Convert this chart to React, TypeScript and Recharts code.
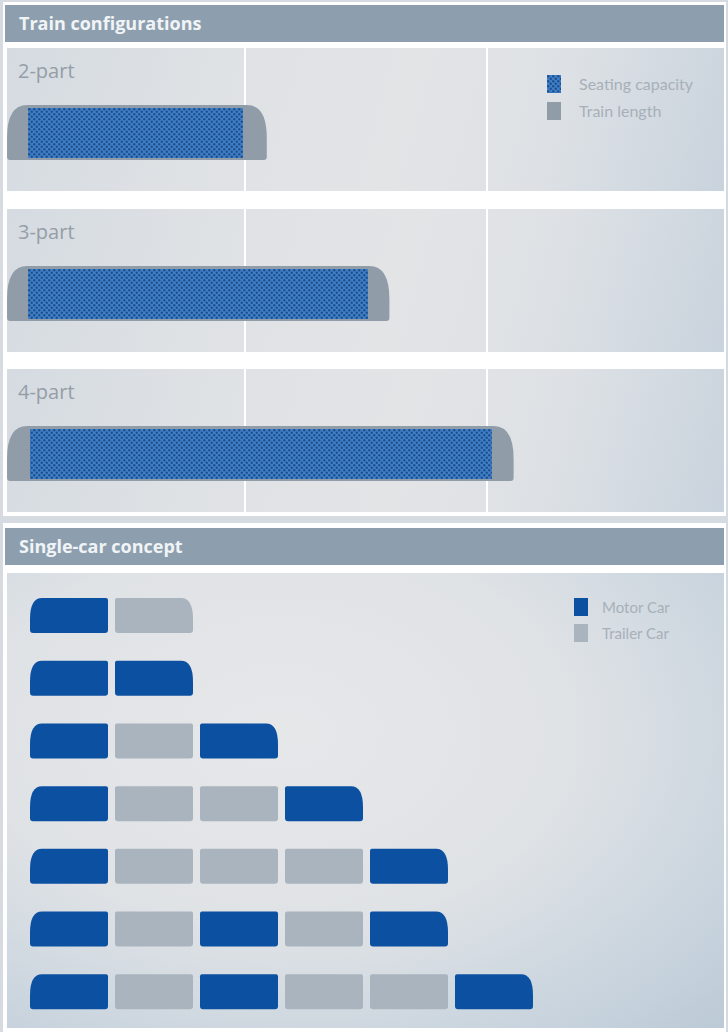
import React from 'react';
import { BarChart, Bar, XAxis, YAxis, CartesianGrid, Legend } from 'recharts';

// Train configurations (lengths in metres)
const configurations = ['2-part', '3-part', '4-part'];
const trainStart = [0.5, 0.5, 0.5];
const trainLength = [32.7, 47.9, 63.3];
const seatingStart = [3.1, 3.1, 3.35];
const seatingEnd = [29.75, 45.25, 60.6];
const lengthTicks = [0, 30, 60, 90];

// Single-car concept: M = motor car, T = trailer car
const formations = ['MT', 'MM', 'MTM', 'MTTM', 'MTTTM', 'MTMTM', 'MTMTTM'];
const slotKeys = ['c1', 'c2', 'c3', 'c4', 'c5', 'c6'];
const carTypes = ['Motor Car', 'Trailer Car'];
const legendOrder = ['Seating capacity', 'Train length'];

const COLORS = {
  page: '#d6dbe1',
  header: '#8d9fae',
  headerText: '#f1f4f6',
  label: '#959ea7',
  legendText: '#a7b0b9',
  train: '#909da9',
  motor: '#0c51a1',
  trailer: '#a9b4bf',
};
const carColors = [COLORS.motor, COLORS.trailer];

const topPanelBg =
  'linear-gradient(105deg, #d5dbe1 0%, #dfe2e5 30%, #e3e4e6 55%, #dde1e5 75%, #c9d3dd 100%)';
const bottomPanelBg =
  'radial-gradient(ellipse at 38% 35%, #e6e7e9 0%, #e0e3e6 45%, #ccd6df 75%, #bccad7 100%)';

const TrainShape = (props: any) => {
  const { x, y, width, height, fill } = props;
  if (!(width > 0)) return null;
  const nose = 20;
  const r = 3;
  const mid = y + height * 0.6;
  const b = y + height;
  const right = x + width;
  const d = `M${x + nose},${y} L${right - nose},${y} Q${right},${y} ${right},${mid} L${right},${b - r} Q${right},${b} ${right - r},${b} L${x + r},${b} Q${x},${b} ${x},${b - r} L${x},${mid} Q${x},${y} ${x + nose},${y} Z`;
  return <path d={d} fill={fill} />;
};

const CarShape = (props: any) => {
  const { x, y, width, height, payload, slot } = props;
  const formation: string = payload.formation;
  if (slot >= formation.length || !(width > 0)) return null;
  const fill = formation[slot] === 'M' ? COLORS.motor : COLORS.trailer;
  const w = width - 7;
  const first = slot === 0;
  const last = slot === formation.length - 1;
  const nose = 12;
  const r = 2;
  const mid = y + height * 0.6;
  const b = y + height;
  const right = x + w;
  const topLeft = first ? `M${x + nose},${y}` : `M${x + r},${y}`;
  const topRight = last
    ? `L${right - nose},${y} Q${right},${y} ${right},${mid}`
    : `L${right - r},${y} Q${right},${y} ${right},${y + r}`;
  const rightSide = `L${right},${b - 3} Q${right},${b} ${right - 3},${b}`;
  const bottom = `L${x + 3},${b} Q${x},${b} ${x},${b - 3}`;
  const leftSide = first
    ? `L${x},${mid} Q${x},${y} ${x + nose},${y} Z`
    : `L${x},${y + r} Q${x},${y} ${x + r},${y} Z`;
  return <path d={`${topLeft} ${topRight} ${rightSide} ${bottom} ${leftSide}`} fill={fill} />;
};

const TopLegend = (props: any) => {
  const items = [...(props.payload || [])].sort(
    (a: any, b: any) => legendOrder.indexOf(a.value) - legendOrder.indexOf(b.value)
  );
  return (
    <div>
      {items.map((entry: any) => (
        <div key={entry.value} style={{ display: 'flex', alignItems: 'center', height: 27 }}>
          <svg width={14} height={18} style={{ marginRight: 18 }}>
            <rect width={14} height={18} fill={entry.color} />
          </svg>
          <span style={{ color: COLORS.legendText, fontSize: 16, fontFamily: 'Lato' }}>{entry.value}</span>
        </div>
      ))}
    </div>
  );
};

const CarLegend = () => (
  <div>
    {carTypes.map((name, i) => (
      <div key={name} style={{ display: 'flex', alignItems: 'center', height: 26 }}>
        <svg width={14} height={18} style={{ marginRight: 14 }}>
          <rect width={14} height={18} fill={carColors[i]} />
        </svg>
        <span style={{ color: COLORS.legendText, fontSize: 15, fontFamily: 'Lato' }}>{name}</span>
      </div>
    ))}
  </div>
);

const Header = ({ top, title }: { top: number; title: string }) => (
  <div
    style={{
      position: 'absolute',
      left: 5,
      top,
      width: 719,
      height: 37,
      background: COLORS.header,
      color: COLORS.headerText,
      fontFamily: 'Open Sans',
      fontWeight: 700,
      fontSize: 18,
      lineHeight: '37px',
      paddingLeft: 14,
      boxSizing: 'border-box',
    }}
  >
    {title}
  </div>
);

const panelTops = [48, 209, 369];

const ConfigPanel = ({ index }: { index: number }) => {
  const row = [
    {
      name: configurations[index],
      length: [trainStart[index], trainLength[index]],
      seats: [seatingStart[index], seatingEnd[index]],
    },
  ];
  return (
    <div
      style={{
        position: 'absolute',
        left: 7,
        top: panelTops[index],
        width: 717,
        height: 143,
        background: topPanelBg,
        overflow: 'hidden',
      }}
    >
      <div style={{ position: 'absolute', left: -4, top: 0 }}>
        <BarChart
          layout="vertical"
          width={726}
          height={143}
          data={row}
          margin={{ top: 0, right: 0, bottom: 0, left: 0 }}
        >
          <CartesianGrid horizontal={false} stroke="#ffffff" strokeWidth={2} />
          <XAxis type="number" domain={[0, 90]} ticks={lengthTicks} hide />
          <YAxis yAxisId="len" type="category" dataKey="name" hide padding={{ top: 26, bottom: 0 }} />
          <YAxis yAxisId="seat" type="category" dataKey="name" hide padding={{ top: 26, bottom: 0 }} />
          <Bar
            yAxisId="len"
            dataKey="length"
            name="Train length"
            fill={COLORS.train}
            barSize={55}
            shape={<TrainShape />}
            isAnimationActive={false}
          />
          <Bar
            yAxisId="seat"
            dataKey="seats"
            name="Seating capacity"
            fill="url(#seatPattern)"
            barSize={50}
            isAnimationActive={false}
          />
          {index === 0 && (
            <Legend
              verticalAlign="middle"
              align="center"
              content={<TopLegend />}
              wrapperStyle={{ left: 544, top: 22, width: 170 }}
            />
          )}
        </BarChart>
      </div>
      <div
        style={{
          position: 'absolute',
          left: 11,
          top: 10,
          fontFamily: 'Open Sans',
          fontSize: 20,
          lineHeight: '26px',
          color: COLORS.label,
        }}
      >
        {configurations[index]}
      </div>
    </div>
  );
};

const carData = formations.map((formation) => {
  const rowObj: any = { name: formation, formation };
  slotKeys.forEach((key, i) => {
    rowObj[key] = i < formation.length ? 1 : null;
  });
  return rowObj;
});

const App = () => {
  return (
    <div
      style={{
        position: 'absolute',
        left: 0,
        top: 0,
        width: 728,
        height: 1032,
        background: COLORS.page,
        overflow: 'hidden',
      }}
    >
      <svg width={0} height={0} style={{ position: 'absolute' }}>
        <defs>
          <pattern id="seatPattern" width={5} height={5} patternUnits="userSpaceOnUse">
            <rect width={5} height={5} fill="#3f7fc8" />
            <circle cx={1.25} cy={1.25} r={1.2} fill="#1d4f8c" />
            <circle cx={3.75} cy={3.75} r={1.2} fill="#1d4f8c" />
          </pattern>
        </defs>
      </svg>

      <div style={{ position: 'absolute', left: 3, top: 2, width: 723, height: 514, background: '#ffffff' }} />
      <Header top={5} title="Train configurations" />
      {configurations.map((_, i) => (
        <ConfigPanel key={i} index={i} />
      ))}

      <div style={{ position: 'absolute', left: 3, top: 523, width: 723, height: 509, background: '#ffffff' }} />
      <Header top={528} title="Single-car concept" />
      <div
        style={{
          position: 'absolute',
          left: 7,
          top: 573,
          width: 717,
          height: 455,
          background: bottomPanelBg,
        }}
      >
        <div style={{ position: 'absolute', left: 23, top: 11 }}>
          <BarChart
            layout="vertical"
            width={680}
            height={439}
            data={carData}
            margin={{ top: 0, right: 0, bottom: 0, left: 0 }}
          >
            <XAxis type="number" domain={[0, 8]} hide />
            <YAxis type="category" dataKey="name" hide />
            {slotKeys.map((key, i) => (
              <Bar
                key={key}
                dataKey={key}
                stackId="cars"
                barSize={35}
                fill={COLORS.motor}
                shape={(p: any) => <CarShape {...p} slot={i} />}
                isAnimationActive={false}
              />
            ))}
            <Legend
              verticalAlign="middle"
              align="center"
              content={<CarLegend />}
              wrapperStyle={{ left: 544, top: 10, width: 130 }}
            />
          </BarChart>
        </div>
      </div>
    </div>
  );
};

export default App;
